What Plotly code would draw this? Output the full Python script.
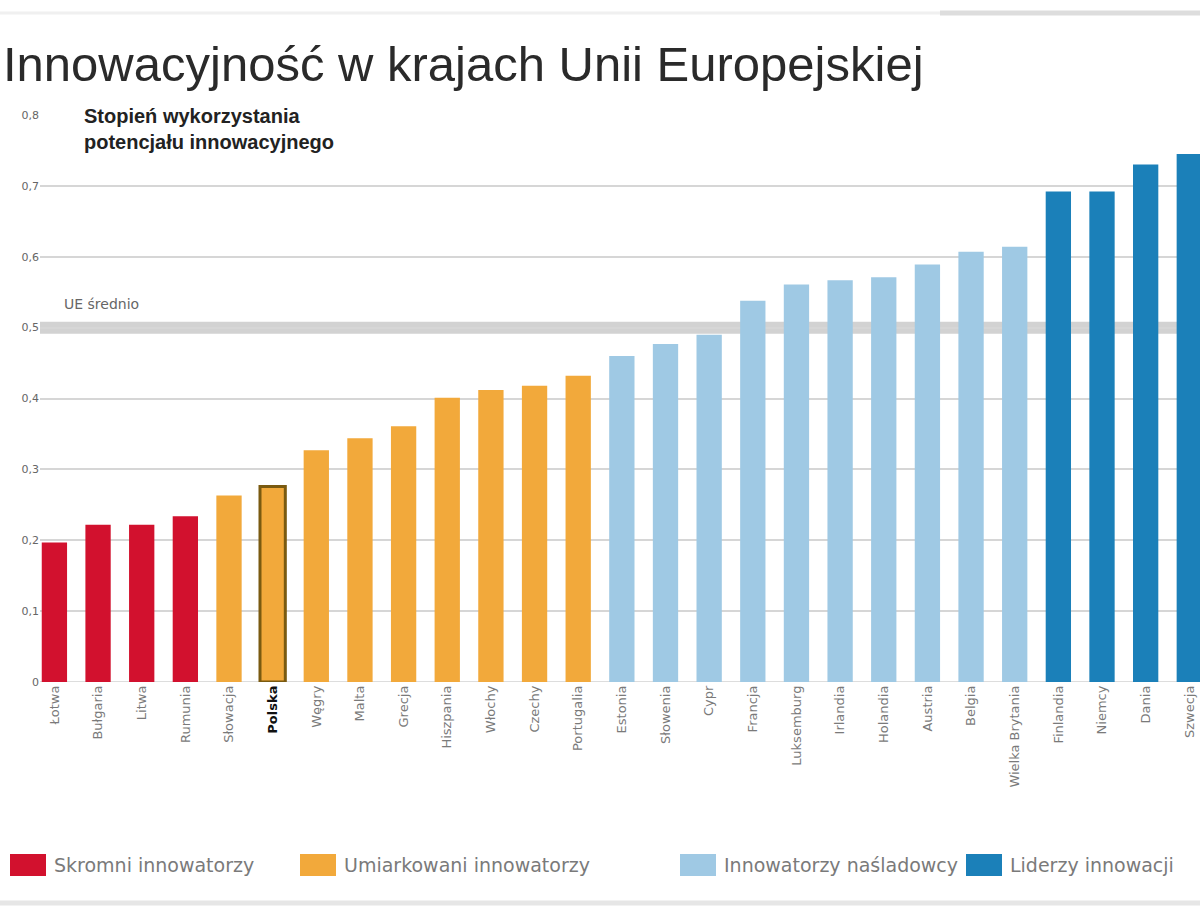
import plotly.graph_objects as go

title = "Innowacyjność w krajach Unii Europejskiej"
subtitle = "Stopień wykorzystania<br>potencjału innowacyjnego"
eu_label = "UE średnio"

modest_countries = ["Łotwa", "Bułgaria", "Litwa", "Rumunia"]
modest_values = [0.197, 0.222, 0.222, 0.234]
moderate_countries = ["Słowacja", "Polska", "Węgry", "Malta", "Grecja", "Hiszpania",
                      "Włochy", "Czechy", "Portugalia"]
moderate_values = [0.263, 0.276, 0.327, 0.344, 0.361, 0.401, 0.412, 0.418, 0.432]
follower_countries = ["Estonia", "Słowenia", "Cypr", "Francja", "Luksemburg", "Irlandia",
                      "Holandia", "Austria", "Belgia", "Wielka Brytania"]
follower_values = [0.460, 0.477, 0.490, 0.538, 0.561, 0.567, 0.571, 0.589, 0.607, 0.614]
leader_countries = ["Finlandia", "Niemcy", "Dania", "Szwecja"]
leader_values = [0.692, 0.692, 0.730, 0.745]

eu_average = 0.5
highlight_country = "Polska"

group_names = ["Skromni innowatorzy", "Umiarkowani innowatorzy",
               "Innowatorzy naśladowcy", "Liderzy innowacji"]
group_colors = ["#d2112e", "#f2a93b", "#9fc9e4", "#1b80b9"]

y_ticks = [0, 0.1, 0.2, 0.3, 0.4, 0.5, 0.6, 0.7, 0.8]
y_tick_labels = ["0", "0,1", "0,2", "0,3", "0,4", "0,5", "0,6", "0,7", "0,8"]

# ---- geometry helpers (pixel -> paper) ----
L, R, T, B = 40, 0, 115, 241
W, H = 1200, 923
PW, PH = W - L - R, H - T - B
def px(x):
    return (x - L) / PW
def py(y):
    return (H - B - y) / PH

groups = [
    (modest_countries, modest_values),
    (moderate_countries, moderate_values),
    (follower_countries, follower_values),
    (leader_countries, leader_values),
]

fig = go.Figure()
all_countries = []
idx = 0
for (countries, values), name, color in zip(groups, group_names, group_colors):
    xs = list(range(idx, idx + len(countries)))
    idx += len(countries)
    all_countries += countries
    line_colors = ["#7a5a10" if c == highlight_country else color for c in countries]
    line_widths = [3 if c == highlight_country else 0 for c in countries]
    fig.add_trace(go.Bar(
        x=xs, y=values, name=name, width=0.58,
        marker=dict(color=color, line=dict(color=line_colors, width=line_widths)),
        showlegend=False,
    ))

tick_text = []
for c in all_countries:
    if c == highlight_country:
        tick_text.append("<span style='color:#111'><b>%s</b></span>" % c)
    else:
        tick_text.append(c)

fig.update_layout(
    width=W, height=H,
    margin=dict(l=L, r=R, t=T, b=B, pad=0),
    paper_bgcolor="white", plot_bgcolor="white",
    font=dict(family="DejaVu Sans, sans-serif", color="#444"),
    xaxis=dict(
        range=[-0.33, 26.245],
        tickmode="array",
        tickvals=list(range(len(all_countries))),
        ticktext=tick_text,
        tickangle=-90,
        tickfont=dict(size=13, color="#7a7a7a", family="DejaVu Sans, sans-serif"),
        showgrid=False, zeroline=False, showline=False, ticks="",
        automargin=False,
    ),
    yaxis=dict(
        range=[0, 0.8],
        tickmode="array",
        tickvals=y_ticks,
        ticktext=y_tick_labels,
        tickfont=dict(size=11, color="#666", family="DejaVu Sans, sans-serif"),
        showgrid=True, gridcolor="#d6d6d6", gridwidth=1.5,
        zeroline=False, showline=False, ticks="",
        automargin=False,
    ),
)

shapes = []
# EU average band
shapes.append(dict(type="line", xref="paper", yref="y", x0=0, x1=1,
                   y0=eu_average, y1=eu_average,
                   line=dict(color="#d2d2d2", width=12), layer="below"))
# baseline
shapes.append(dict(type="line", xref="paper", yref="y", x0=0, x1=1, y0=0, y1=0,
                   line=dict(color="#bbbbbb", width=1), layer="below"))
# top decoration line and bottom line
shapes.append(dict(type="line", xref="paper", yref="paper", x0=px(0), x1=px(940),
                   y0=py(13), y1=py(13), line=dict(color="#f0f0f0", width=3)))
shapes.append(dict(type="line", xref="paper", yref="paper", x0=px(940), x1=px(1200),
                   y0=py(13), y1=py(13), line=dict(color="#dddddd", width=5)))
shapes.append(dict(type="line", xref="paper", yref="paper", x0=px(0), x1=px(1200),
                   y0=py(903), y1=py(903), line=dict(color="#e6e6e6", width=5)))

annotations = []
annotations.append(dict(text=title, xref="paper", yref="paper", x=px(1), y=py(64),
                        xanchor="left", yanchor="middle", showarrow=False,
                        font=dict(size=49, color="#2a2a2a",
                                  family="Liberation Sans, Arial, sans-serif")))
annotations.append(dict(text="<b>" + subtitle + "</b>", xref="paper", yref="paper",
                        x=px(82), y=py(103), xanchor="left", yanchor="top", align="left",
                        showarrow=False,
                        font=dict(size=20, color="#222",
                                  family="Liberation Sans, Arial, sans-serif")))
annotations.append(dict(text=eu_label, xref="paper", yref="paper", x=px(62), y=py(304),
                        xanchor="left", yanchor="middle", showarrow=False,
                        font=dict(size=14, color="#666", family="DejaVu Sans, sans-serif")))

# custom legend
legend_x = [10, 300, 680, 966]
for lx, name, color in zip(legend_x, group_names, group_colors):
    shapes.append(dict(type="rect", xref="paper", yref="paper",
                       x0=px(lx), x1=px(lx + 36), y0=py(876), y1=py(854),
                       fillcolor=color, line=dict(width=0)))
    annotations.append(dict(text=name, xref="paper", yref="paper", x=px(lx + 42), y=py(865),
                            xanchor="left", yanchor="middle", showarrow=False,
                            font=dict(size=19, color="#7a7a7a", family="DejaVu Sans, sans-serif")))

fig.update_layout(shapes=shapes, annotations=annotations)
fig.write_html("out.html", config={"displayModeBar": False},
               post_script="document.body.style.margin='0px';")
